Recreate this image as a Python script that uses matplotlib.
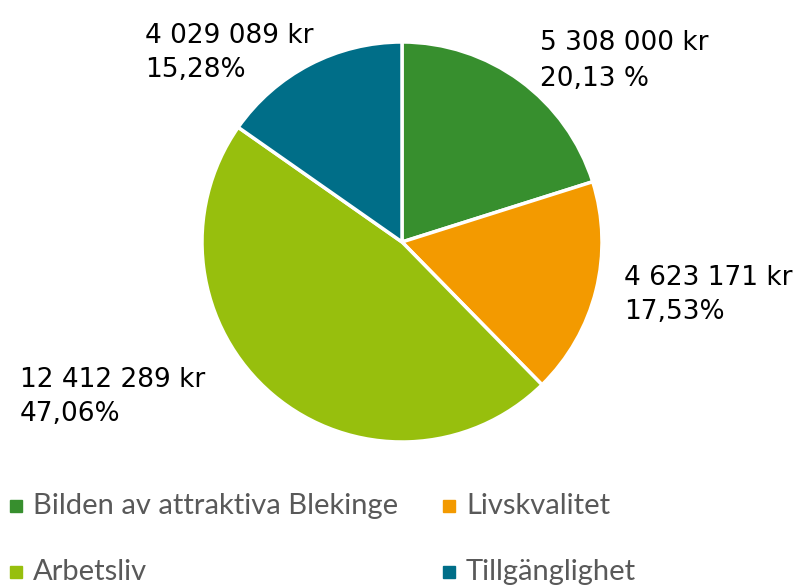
import matplotlib.pyplot as plt
from matplotlib.patches import Rectangle

# data
categories = ['Bilden av attraktiva Blekinge', 'Livskvalitet', 'Arbetsliv', 'Tillgänglighet']
amounts = [5308000, 4623171, 12412289, 4029089]
amount_labels = ['5 308 000 kr', '4 623 171 kr', '12 412 289 kr', '4 029 089 kr']
pct_labels = ['20,13 %', '17,53%', '47,06%', '15,28%']
colors = ['#378f2e', '#f39a00', '#97bf0d', '#006e88']

W, H = 793, 585
fig = plt.figure(figsize=(W / 100, H / 100), dpi=100)

# pie centre (402, 242) px, radius 200 px
cx, cy, r = 402, 242, 200
ax = fig.add_axes([(cx - r) / W, (H - cy - r) / H, 2 * r / W, 2 * r / H])
ax.pie(amounts, colors=colors, startangle=90, counterclock=False,
       wedgeprops=dict(edgecolor='white', linewidth=2.5))
ax.set_xlim(-1, 1)
ax.set_ylim(-1, 1)
ax.set_aspect('auto')
ax.axis('off')

# data labels: (x, baseline line 1, baseline line 2) in pixels
label_pos = [(540, 50, 86), (624, 285, 319), (20, 387, 421), (145, 43, 77)]
for i in range(len(categories)):
    x, b1, b2 = label_pos[i]
    fig.text(x / W, 1 - b1 / H, amount_labels[i], fontsize=19, color='black',
             ha='left', va='baseline', family='DejaVu Sans')
    fig.text(x / W, 1 - b2 / H, pct_labels[i], fontsize=19, color='black',
             ha='left', va='baseline', family='DejaVu Sans')

# legend, 2 columns
leg_pos = [(10, 514), (443, 514), (10, 580), (443, 580)]
for i in range(len(categories)):
    x, b = leg_pos[i]
    fig.patches.append(Rectangle((x / W, 1 - (b - 2) / H), 12 / W, 12 / H,
                                 transform=fig.transFigure, color=colors[i]))
    fig.text((x + 23) / W, 1 - b / H, categories[i], fontsize=21, color='#595959',
             ha='left', va='baseline', family='Lato')

fig.savefig('out.png', dpi=100)
